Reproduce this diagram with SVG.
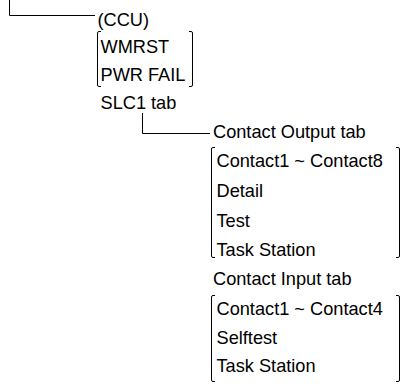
<svg xmlns="http://www.w3.org/2000/svg" width="403" height="385" viewBox="0 0 403 385">
<style>
text{font-family:"Liberation Sans",Arial,sans-serif;font-size:18.2px;fill:#000}
.ln{fill:none;stroke:#000;stroke-width:1}
</style>
<rect width="403" height="385" fill="#fff"/>
<g id="connectors">
<path class="ln" d="M9.5 0V15.5H95"/>
<path class="ln" d="M142.5 113V133.5H210"/>
</g>
<g id="ccu"><text x="97.5" y="26">(CCU)</text></g>
<g id="ccu-items">
<path class="ln" d="M101 31.5H99Q97.5 31.5 97.5 33V85Q97.5 86.5 99 86.5H101M189 31.5H191Q192.5 31.5 192.5 33V85Q192.5 86.5 191 86.5H189"/>
<text x="100.5" y="52.5">WMRST</text>
<text x="100.5" y="80.5">PWR FAIL</text>
</g>
<g id="slc1"><text x="100.5" y="109">SLC1 tab</text></g>
<g id="contact-output"><text x="213" y="138">Contact Output tab</text></g>
<g id="contact-output-items">
<path class="ln" d="M215 147.5H213Q211.5 147.5 211.5 149V256Q211.5 257.5 213 257.5H215M396 147.5H398Q399.5 147.5 399.5 149V256Q399.5 257.5 398 257.5H396"/>
<text x="216.5" y="167">Contact1 ~ Contact8</text>
<text x="216.5" y="197">Detail</text>
<text x="216.5" y="226.5">Test</text>
<text x="216.5" y="255.5">Task Station</text>
</g>
<g id="contact-input"><text x="213" y="285">Contact Input tab</text></g>
<g id="contact-input-items">
<path class="ln" d="M215 295.5H213Q211.5 295.5 211.5 297V380Q211.5 381.5 213 381.5H215M396 295.5H398Q399.5 295.5 399.5 297V380Q399.5 381.5 398 381.5H396"/>
<text x="216.5" y="315">Contact1 ~ Contact4</text>
<text x="216.5" y="343.5">Selftest</text>
<text x="216.5" y="372">Task Station</text>
</g>
</svg>
